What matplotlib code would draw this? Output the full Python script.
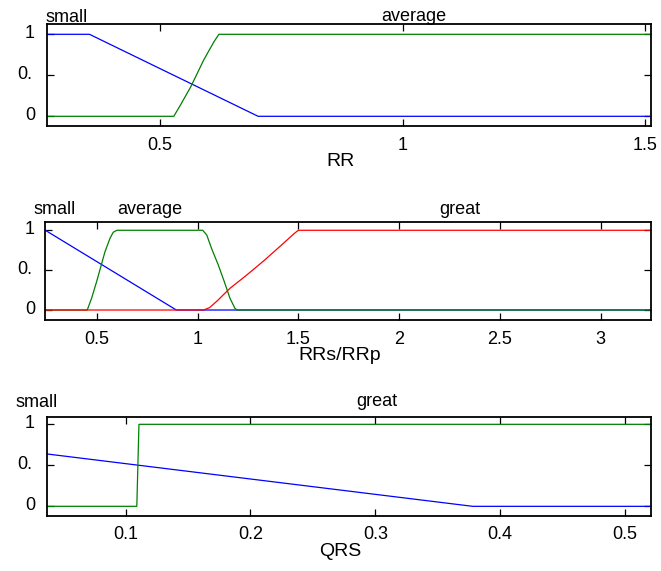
import matplotlib
matplotlib.use('Agg')
import matplotlib.pyplot as plt
from matplotlib.transforms import ScaledTranslation

plt.rcParams['font.family'] = ['Liberation Sans', 'DejaVu Sans']

W, H, DPI = 661, 571, 100

# ---------------- data ----------------
# Panel 1: RR
rr_xlim = (0.267, 1.512)
rr_small_x = [0.267, 0.354, 0.702, 1.512]
rr_small_y = [1, 1, 0, 0]
rr_avg_x = [0.267, 0.528, 0.542, 0.563, 0.590, 0.611, 0.621, 1.512]
rr_avg_y = [0, 0, 0.14, 0.36, 0.69, 0.91, 1, 1]
rr_ticks = [0.5, 1, 1.5]
rr_ticklabels = ['0.5', '1', '1.5']

# Panel 2: RRs/RRp
ratio_xlim = (0.245, 3.248)
ratio_small_x = [0.245, 0.895, 3.248]
ratio_small_y = [1, 0, 0]
ratio_avg_x = [0.245, 0.453, 0.475, 0.5, 0.541, 0.566, 0.582, 0.6,
               1.026, 1.046, 1.07, 1.103, 1.133, 1.161, 1.186, 1.197, 3.248]
ratio_avg_y = [0, 0, 0.15, 0.36, 0.73, 0.90, 0.975, 1,
               1, 0.94, 0.77, 0.565, 0.355, 0.147, 0.02, 0, 0]
ratio_great_x = [0.245, 1.03, 1.06, 1.10, 1.16, 1.24, 1.33, 1.41, 1.48, 1.50, 3.248]
ratio_great_y = [0, 0, 0.03, 0.12, 0.27, 0.43, 0.62, 0.80, 0.96, 1, 1]
ratio_ticks = [0.5, 1, 1.5, 2, 2.5, 3]
ratio_ticklabels = ['0.5', '1', '1.5', '2', '2.5', '3']

# Panel 3: QRS
qrs_xlim = (0.0373, 0.5206)
qrs_small_x = [0.0373, 0.378, 0.5206]
qrs_small_y = [0.638, 0, 0]
qrs_great_x = [0.0373, 0.109, 0.1107, 0.5206]
qrs_great_y = [0, 0, 1, 1]
qrs_ticks = [0.1, 0.2, 0.3, 0.4, 0.5]
qrs_ticklabels = ['0.1', '0.2', '0.3', '0.4', '0.5']

y_ticks = [0, 0.5, 1]
y_ticklabels = ['0', '0.', '1']

xlabels = ['RR', 'RRs/RRp', 'QRS']
term_labels = [['small', 'average'], ['small', 'average', 'great'], ['small', 'great']]

# ---------------- layout (pixels) ----------------
boxes = [(47.3, 24.3, 650.7, 126.3), (45.3, 222.3, 650.7, 320.3), (47.3, 416.7, 650.7, 516.0)]
ylims = [(-0.122, 1.122), (-0.129, 1.100), (-0.118, 1.093)]
term_pos = [[(45, 21.7), (381.7, 20.7)],
            [(33.3, 214.3), (117.3, 214.3), (439.3, 214.0)],
            [(15, 406.7), (356, 406.0)]]

BLUE, GREEN, RED = '#0000ff', '#008000', '#ff0000'

fig = plt.figure(figsize=(W / DPI, H / DPI), dpi=DPI)
fig.patch.set_facecolor('white')

panels = [
    dict(xlim=rr_xlim, ticks=rr_ticks, tl=rr_ticklabels,
         series=[(rr_small_x, rr_small_y, BLUE), (rr_avg_x, rr_avg_y, GREEN)]),
    dict(xlim=ratio_xlim, ticks=ratio_ticks, tl=ratio_ticklabels,
         series=[(ratio_small_x, ratio_small_y, BLUE), (ratio_avg_x, ratio_avg_y, GREEN),
                 (ratio_great_x, ratio_great_y, RED)]),
    dict(xlim=qrs_xlim, ticks=qrs_ticks, tl=qrs_ticklabels,
         series=[(qrs_small_x, qrs_small_y, BLUE), (qrs_great_x, qrs_great_y, GREEN)]),
]

for i, p in enumerate(panels):
    l, t, r, b = boxes[i]
    ax = fig.add_axes([l / W, 1 - b / H, (r - l) / W, (b - t) / H])
    for xs, ys, c in p['series']:
        ax.plot(xs, ys, color=c, lw=0.9, solid_joinstyle='miter')
    ax.set_xlim(*p['xlim'])
    ax.set_ylim(*ylims[i])
    ax.set_xticks(p['ticks'], labels=p['tl'])
    ax.set_yticks(y_ticks, labels=y_ticklabels)
    for s in ax.spines.values():
        s.set_linewidth(1.3)
        s.set_color('black')
    ax.tick_params(axis='both', direction='in', length=5, width=0.9,
                   top=True, right=True, labelsize=13, colors='black')
    ax.tick_params(axis='x', pad=7.5)
    ypad_pt = (l - 30) * 72 / DPI
    ax.tick_params(axis='y', pad=ypad_pt)
    ax.set_xlabel(xlabels[i], fontsize=14)
    ax.xaxis.set_label_coords((340 - l) / (r - l), -27 / (b - t))
    ax.xaxis.label.set_va('top')
    # y tick labels: centered, slightly raised; middle one clipped-looking "0."
    ticks = ax.yaxis.get_major_ticks()
    for k, tk in enumerate(ticks):
        lab = tk.label1
        lab.set_ha('center')
        dx = -5 if k == 1 else 0
        lab.set_transform(lab.get_transform() + ScaledTranslation(dx / DPI, 3 / DPI, fig.dpi_scale_trans))
    for txt, (px, py) in zip(term_labels[i], term_pos[i]):
        fig.text(px / W, 1 - py / H, txt, fontsize=13, ha='left', va='baseline')

fig.savefig('out.png', dpi=DPI, facecolor='white')
